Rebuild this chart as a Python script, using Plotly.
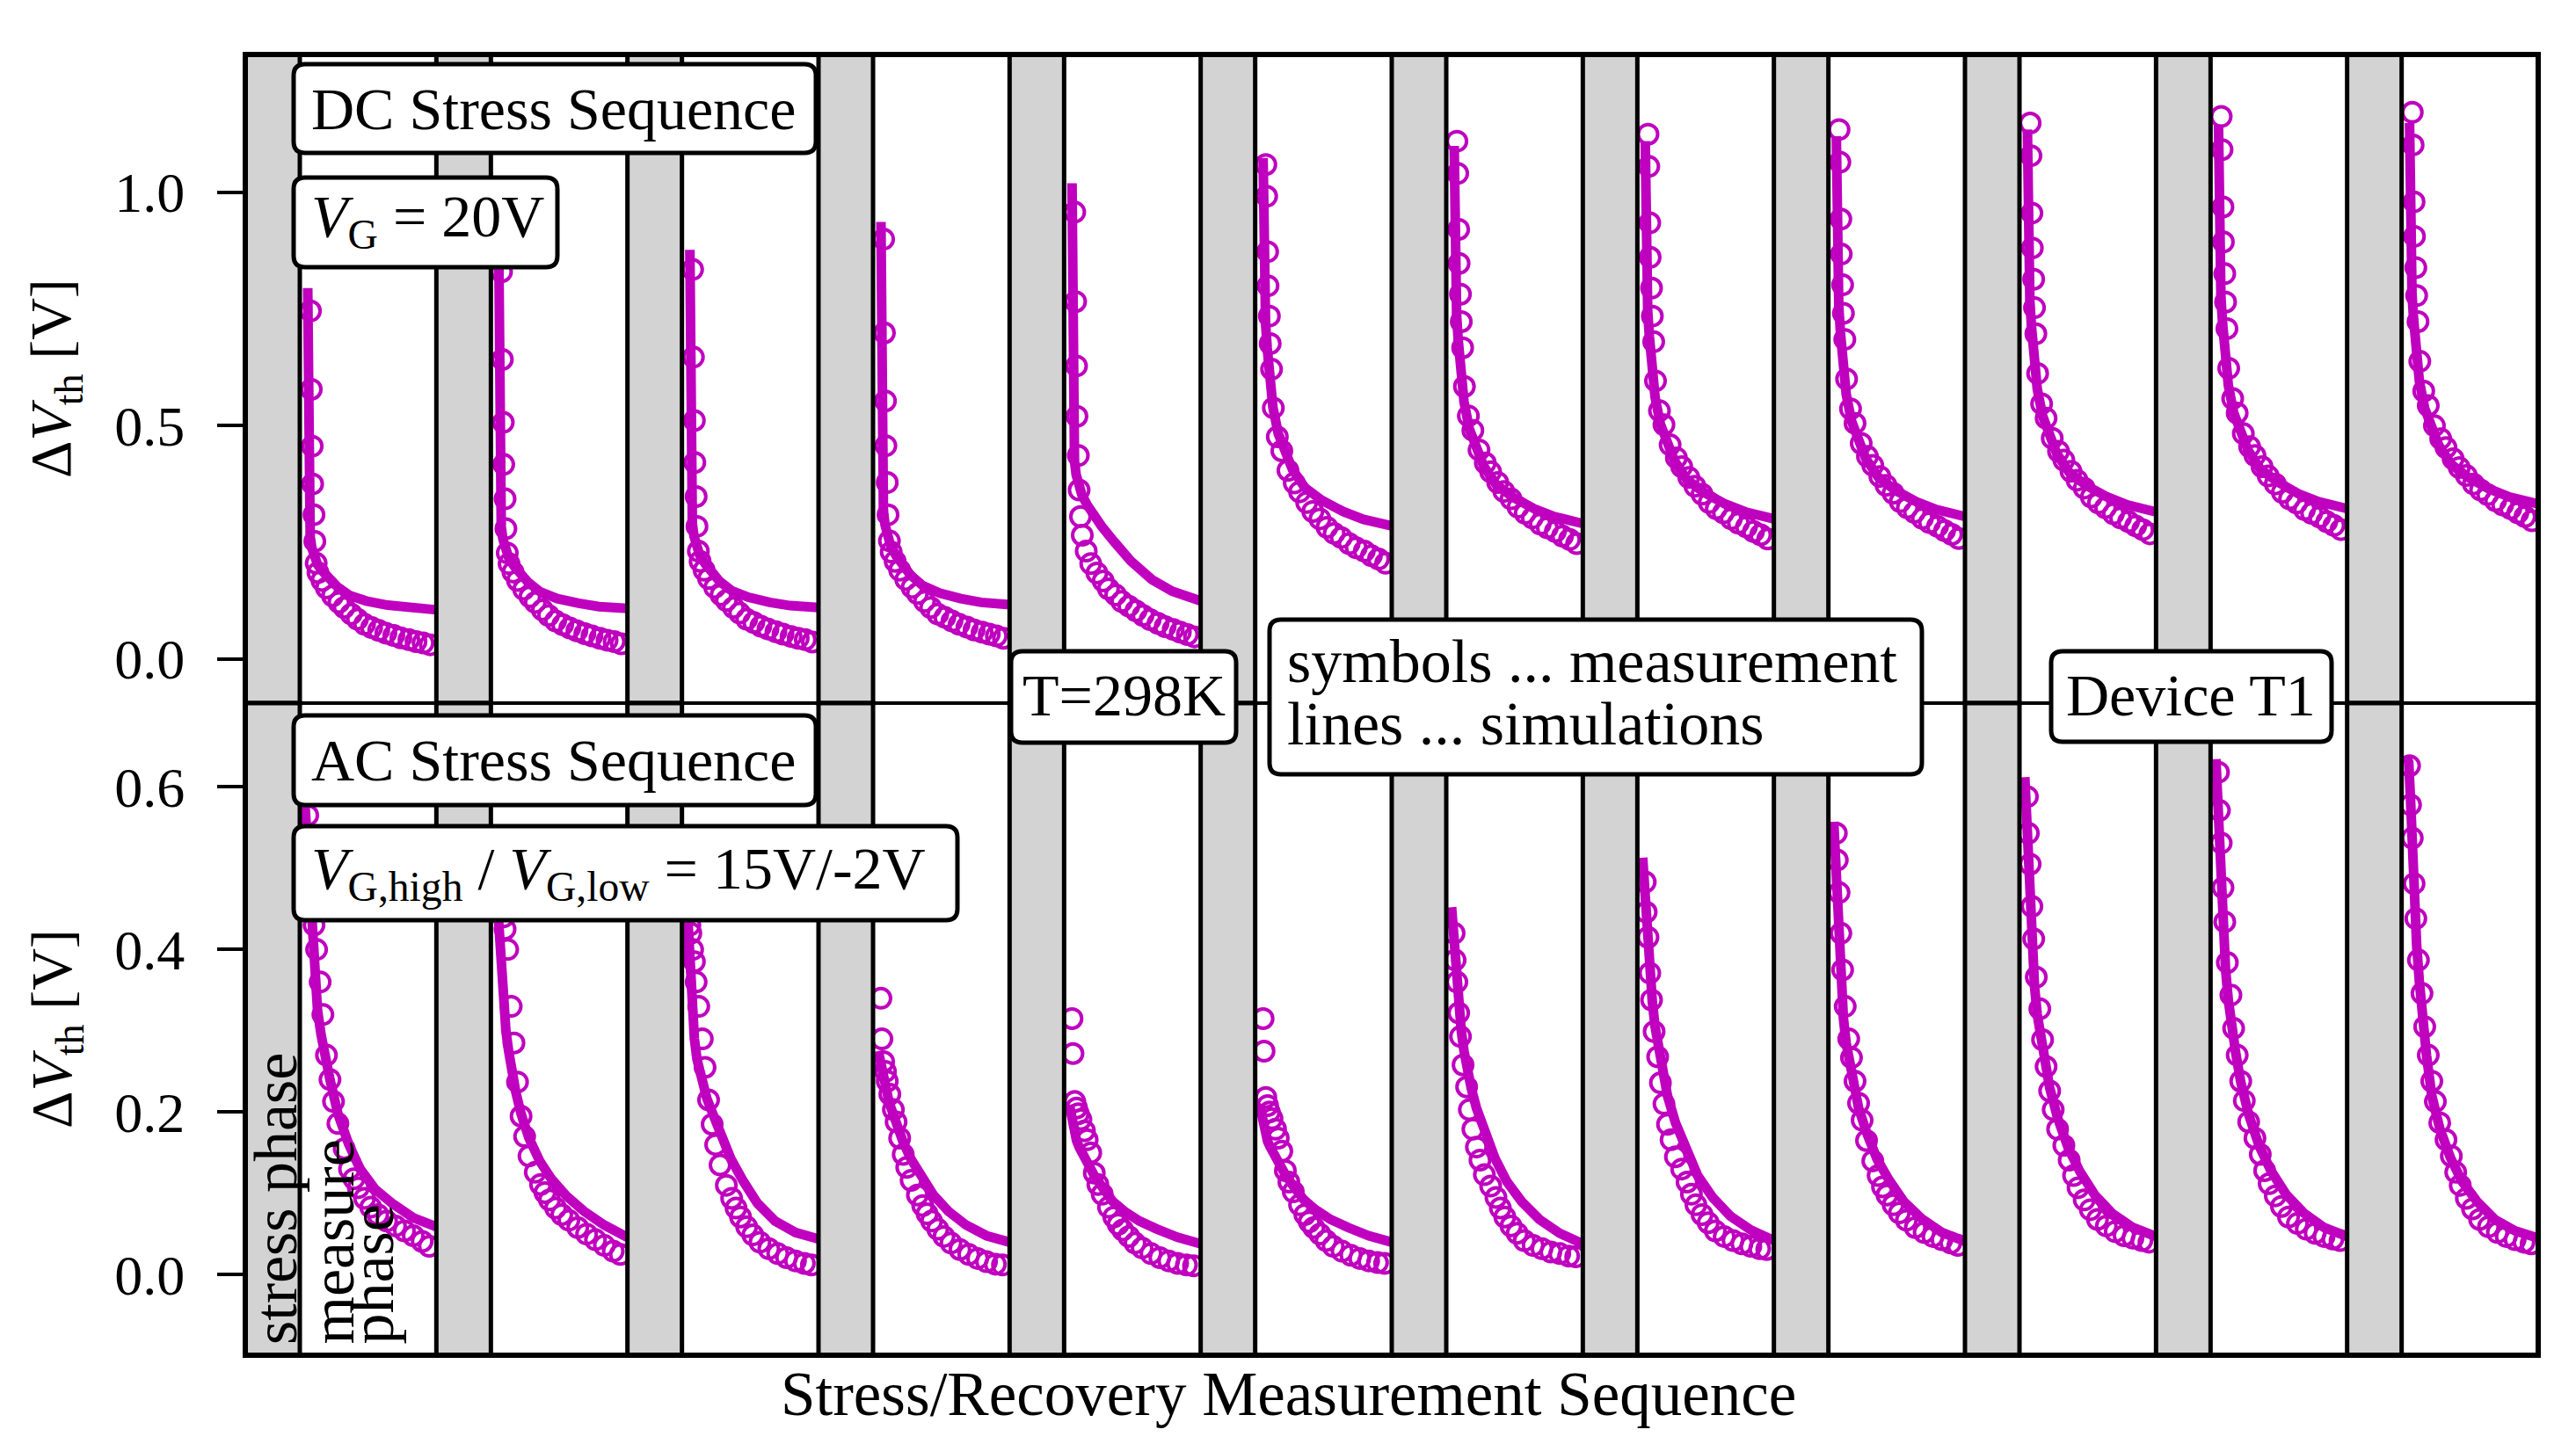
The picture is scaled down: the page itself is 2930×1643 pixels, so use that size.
import plotly.graph_objects as go

# ---------------- data ----------------
CYCLES = [1, 2, 3, 4, 5, 6, 7, 8, 9, 10, 11, 12]

# relative time inside each measure (recovery) window, 0 .. 1
DC_T_MEAS = [0.078, 0.084, 0.091, 0.094, 0.104, 0.110, 0.120, 0.133, 0.162, 0.195, 0.240, 0.286, 0.325,
             0.377, 0.422, 0.474, 0.526, 0.578, 0.630, 0.688, 0.740, 0.799, 0.851, 0.903, 0.955]
DC_T_SIM = [0.058, 0.060, 0.063, 0.068, 0.076, 0.088, 0.104, 0.130, 0.169, 0.221, 0.273, 0.364, 0.487,
            0.643, 0.792, 1.0]
AC_T_MEAS = [0.058, 0.065, 0.078, 0.091, 0.104, 0.123, 0.149, 0.169, 0.195, 0.221, 0.247, 0.279, 0.325,
             0.364, 0.396, 0.429, 0.474, 0.519, 0.571, 0.636, 0.701, 0.766, 0.831, 0.896, 0.948]
AC_T_SIM = [0.039, 0.052, 0.065, 0.078, 0.091, 0.110, 0.130, 0.156, 0.182, 0.221, 0.279, 0.357, 0.442,
            0.552, 0.682, 0.831, 1.0]

# DC stress, measured dVth [V]
DC_MEAS_01 = [0.746, 0.578, 0.456, 0.375, 0.309, 0.252, 0.205, 0.185, 0.168, 0.152, 0.135, 0.121, 0.110, 0.096, 0.085, 0.074, 0.067, 0.061, 0.055, 0.050, 0.045, 0.041, 0.037, 0.034, 0.030]
DC_MEAS_02 = [0.830, 0.642, 0.507, 0.417, 0.343, 0.279, 0.227, 0.204, 0.186, 0.168, 0.149, 0.133, 0.121, 0.105, 0.093, 0.081, 0.073, 0.066, 0.060, 0.054, 0.049, 0.044, 0.040, 0.037, 0.032]
DC_MEAS_03 = [0.835, 0.647, 0.511, 0.421, 0.348, 0.284, 0.231, 0.209, 0.190, 0.172, 0.153, 0.137, 0.125, 0.110, 0.098, 0.085, 0.078, 0.070, 0.064, 0.058, 0.053, 0.048, 0.044, 0.041, 0.036]
DC_MEAS_04 = [0.900, 0.699, 0.553, 0.457, 0.378, 0.309, 0.253, 0.229, 0.209, 0.190, 0.170, 0.153, 0.140, 0.123, 0.110, 0.096, 0.089, 0.081, 0.074, 0.068, 0.062, 0.057, 0.053, 0.049, 0.044]
DC_MEAS_05 = [0.958, 0.766, 0.628, 0.520, 0.436, 0.362, 0.305, 0.265, 0.231, 0.204, 0.184, 0.167, 0.150, 0.137, 0.123, 0.113, 0.103, 0.093, 0.084, 0.076, 0.069, 0.063, 0.057, 0.052, 0.047]
DC_MEAS_06 = [1.060, 0.992, 0.873, 0.800, 0.735, 0.676, 0.621, 0.538, 0.476, 0.446, 0.404, 0.377, 0.358, 0.335, 0.316, 0.300, 0.282, 0.269, 0.260, 0.247, 0.238, 0.231, 0.221, 0.214, 0.205]
DC_MEAS_07 = [1.110, 1.041, 0.921, 0.848, 0.782, 0.723, 0.667, 0.584, 0.521, 0.490, 0.448, 0.420, 0.401, 0.378, 0.359, 0.343, 0.325, 0.312, 0.302, 0.289, 0.281, 0.273, 0.263, 0.256, 0.247]
DC_MEAS_08 = [1.125, 1.056, 0.935, 0.861, 0.795, 0.735, 0.680, 0.596, 0.532, 0.502, 0.459, 0.431, 0.412, 0.389, 0.370, 0.353, 0.335, 0.322, 0.313, 0.300, 0.291, 0.283, 0.273, 0.266, 0.257]
DC_MEAS_09 = [1.135, 1.065, 0.943, 0.868, 0.802, 0.741, 0.685, 0.600, 0.536, 0.505, 0.462, 0.434, 0.415, 0.391, 0.372, 0.355, 0.337, 0.324, 0.314, 0.301, 0.292, 0.284, 0.275, 0.267, 0.258]
DC_MEAS_10 = [1.149, 1.079, 0.956, 0.881, 0.814, 0.753, 0.697, 0.612, 0.547, 0.516, 0.473, 0.445, 0.426, 0.402, 0.383, 0.366, 0.347, 0.334, 0.324, 0.311, 0.302, 0.294, 0.285, 0.277, 0.268]
DC_MEAS_11 = [1.163, 1.092, 0.969, 0.894, 0.826, 0.765, 0.708, 0.623, 0.558, 0.527, 0.483, 0.455, 0.436, 0.412, 0.392, 0.375, 0.357, 0.343, 0.334, 0.320, 0.312, 0.304, 0.294, 0.286, 0.277]
DC_MEAS_12 = [1.172, 1.102, 0.980, 0.906, 0.839, 0.779, 0.723, 0.638, 0.574, 0.543, 0.500, 0.472, 0.453, 0.429, 0.410, 0.393, 0.375, 0.362, 0.352, 0.339, 0.330, 0.322, 0.313, 0.305, 0.296]

# DC stress, simulated dVth [V]
DC_SIM_01 = [0.795, 0.550, 0.360, 0.300, 0.262, 0.238, 0.218, 0.202, 0.187, 0.168, 0.155, 0.136, 0.124, 0.115, 0.109, 0.105]
DC_SIM_02 = [0.870, 0.600, 0.390, 0.325, 0.283, 0.257, 0.235, 0.217, 0.199, 0.178, 0.164, 0.143, 0.129, 0.119, 0.112, 0.108]
DC_SIM_03 = [0.877, 0.610, 0.400, 0.333, 0.290, 0.263, 0.240, 0.222, 0.204, 0.182, 0.167, 0.146, 0.132, 0.121, 0.114, 0.110]
DC_SIM_04 = [0.937, 0.660, 0.440, 0.365, 0.318, 0.287, 0.262, 0.241, 0.221, 0.197, 0.180, 0.157, 0.141, 0.129, 0.121, 0.116]
DC_SIM_05 = [1.020, 0.800, 0.600, 0.480, 0.425, 0.395, 0.372, 0.352, 0.330, 0.306, 0.285, 0.252, 0.210, 0.170, 0.145, 0.124]
DC_SIM_06 = [1.074, 1.005, 0.938, 0.841, 0.720, 0.667, 0.608, 0.539, 0.483, 0.440, 0.406, 0.367, 0.340, 0.316, 0.299, 0.285]
DC_SIM_07 = [1.100, 1.030, 0.961, 0.861, 0.736, 0.682, 0.622, 0.551, 0.493, 0.449, 0.414, 0.374, 0.347, 0.322, 0.305, 0.290]
DC_SIM_08 = [1.110, 1.040, 0.971, 0.871, 0.746, 0.692, 0.632, 0.561, 0.503, 0.459, 0.424, 0.384, 0.357, 0.332, 0.315, 0.300]
DC_SIM_09 = [1.121, 1.050, 0.980, 0.880, 0.755, 0.700, 0.640, 0.568, 0.510, 0.465, 0.430, 0.390, 0.362, 0.337, 0.320, 0.305]
DC_SIM_10 = [1.135, 1.064, 0.994, 0.893, 0.767, 0.712, 0.651, 0.579, 0.521, 0.476, 0.440, 0.400, 0.372, 0.347, 0.330, 0.315]
DC_SIM_11 = [1.144, 1.072, 1.003, 0.902, 0.775, 0.720, 0.659, 0.587, 0.528, 0.483, 0.448, 0.407, 0.380, 0.354, 0.337, 0.322]
DC_SIM_12 = [1.149, 1.078, 1.008, 0.908, 0.782, 0.727, 0.667, 0.595, 0.537, 0.492, 0.457, 0.417, 0.389, 0.364, 0.347, 0.332]

# AC stress, measured dVth [V]
AC_MEAS_01 = [0.565, 0.530, 0.490, 0.455, 0.430, 0.400, 0.360, 0.320, 0.270, 0.240, 0.213, 0.186, 0.155, 0.130, 0.118, 0.107, 0.094, 0.083, 0.074, 0.066, 0.060, 0.054, 0.048, 0.041, 0.035]
AC_MEAS_02 = [0.470, 0.460, 0.450, 0.440, 0.425, 0.400, 0.330, 0.285, 0.237, 0.195, 0.170, 0.146, 0.126, 0.111, 0.101, 0.092, 0.082, 0.074, 0.067, 0.058, 0.050, 0.043, 0.036, 0.029, 0.025]
AC_MEAS_03 = [0.430, 0.420, 0.400, 0.385, 0.360, 0.330, 0.290, 0.255, 0.215, 0.185, 0.160, 0.135, 0.110, 0.094, 0.082, 0.071, 0.059, 0.049, 0.040, 0.032, 0.026, 0.021, 0.017, 0.014, 0.012]
AC_MEAS_04 = [0.340, 0.290, 0.262, 0.250, 0.238, 0.222, 0.203, 0.188, 0.168, 0.148, 0.132, 0.116, 0.098, 0.085, 0.075, 0.066, 0.056, 0.047, 0.039, 0.031, 0.025, 0.020, 0.016, 0.013, 0.012]
AC_MEAS_05 = [0.315, 0.272, 0.213, 0.205, 0.198, 0.191, 0.177, 0.166, 0.150, 0.125, 0.111, 0.099, 0.083, 0.071, 0.062, 0.055, 0.047, 0.039, 0.033, 0.026, 0.021, 0.017, 0.014, 0.012, 0.011]
AC_MEAS_06 = [0.315, 0.275, 0.218, 0.208, 0.200, 0.192, 0.179, 0.168, 0.152, 0.128, 0.114, 0.102, 0.086, 0.074, 0.065, 0.058, 0.050, 0.042, 0.035, 0.029, 0.024, 0.020, 0.017, 0.015, 0.014]
AC_MEAS_07 = [0.420, 0.387, 0.360, 0.322, 0.293, 0.258, 0.231, 0.203, 0.179, 0.157, 0.141, 0.123, 0.109, 0.095, 0.082, 0.071, 0.060, 0.051, 0.042, 0.036, 0.032, 0.028, 0.026, 0.023, 0.022]
AC_MEAS_08 = [0.483, 0.446, 0.415, 0.371, 0.338, 0.299, 0.268, 0.236, 0.210, 0.185, 0.166, 0.145, 0.130, 0.114, 0.099, 0.086, 0.074, 0.064, 0.054, 0.047, 0.042, 0.038, 0.035, 0.032, 0.031]
AC_MEAS_09 = [0.543, 0.510, 0.470, 0.420, 0.375, 0.330, 0.290, 0.267, 0.238, 0.211, 0.190, 0.165, 0.140, 0.122, 0.108, 0.098, 0.086, 0.076, 0.067, 0.058, 0.052, 0.047, 0.043, 0.039, 0.036]
AC_MEAS_10 = [0.588, 0.543, 0.505, 0.453, 0.413, 0.366, 0.327, 0.289, 0.256, 0.226, 0.203, 0.179, 0.159, 0.141, 0.122, 0.107, 0.092, 0.080, 0.068, 0.060, 0.053, 0.048, 0.045, 0.042, 0.040]
AC_MEAS_11 = [0.618, 0.571, 0.531, 0.476, 0.434, 0.384, 0.344, 0.303, 0.270, 0.238, 0.214, 0.188, 0.168, 0.148, 0.128, 0.112, 0.097, 0.084, 0.071, 0.063, 0.056, 0.051, 0.047, 0.044, 0.042]
AC_MEAS_12 = [0.626, 0.578, 0.537, 0.481, 0.438, 0.387, 0.346, 0.305, 0.270, 0.238, 0.213, 0.187, 0.166, 0.146, 0.126, 0.110, 0.094, 0.081, 0.068, 0.059, 0.052, 0.047, 0.043, 0.040, 0.038]

# AC stress, simulated dVth [V]
AC_SIM_01 = [0.575, 0.540, 0.490, 0.440, 0.395, 0.355, 0.325, 0.295, 0.270, 0.240, 0.198, 0.161, 0.130, 0.105, 0.087, 0.070, 0.059]
AC_SIM_02 = [0.480, 0.440, 0.400, 0.365, 0.335, 0.300, 0.275, 0.245, 0.225, 0.198, 0.168, 0.140, 0.118, 0.097, 0.078, 0.061, 0.046]
AC_SIM_03 = [0.450, 0.400, 0.350, 0.315, 0.290, 0.265, 0.248, 0.230, 0.217, 0.200, 0.175, 0.143, 0.117, 0.088, 0.066, 0.052, 0.044]
AC_SIM_04 = [0.275, 0.262, 0.250, 0.240, 0.230, 0.218, 0.206, 0.192, 0.180, 0.163, 0.142, 0.118, 0.098, 0.078, 0.061, 0.048, 0.040]
AC_SIM_05 = [0.209, 0.195, 0.183, 0.172, 0.165, 0.157, 0.150, 0.141, 0.133, 0.122, 0.108, 0.090, 0.078, 0.066, 0.056, 0.046, 0.038]
AC_SIM_06 = [0.204, 0.192, 0.181, 0.171, 0.164, 0.157, 0.150, 0.142, 0.134, 0.123, 0.109, 0.092, 0.080, 0.068, 0.058, 0.048, 0.040]
AC_SIM_07 = [0.452, 0.420, 0.385, 0.355, 0.330, 0.300, 0.275, 0.250, 0.230, 0.205, 0.175, 0.143, 0.115, 0.090, 0.068, 0.051, 0.038]
AC_SIM_08 = [0.513, 0.475, 0.435, 0.400, 0.370, 0.335, 0.305, 0.275, 0.250, 0.220, 0.187, 0.152, 0.122, 0.095, 0.072, 0.055, 0.042]
AC_SIM_09 = [0.557, 0.500, 0.440, 0.391, 0.355, 0.315, 0.285, 0.258, 0.237, 0.205, 0.175, 0.142, 0.117, 0.090, 0.069, 0.052, 0.041]
AC_SIM_10 = [0.612, 0.550, 0.490, 0.440, 0.400, 0.355, 0.320, 0.290, 0.265, 0.230, 0.193, 0.156, 0.127, 0.098, 0.075, 0.058, 0.047]
AC_SIM_11 = [0.634, 0.575, 0.515, 0.465, 0.425, 0.375, 0.338, 0.302, 0.275, 0.237, 0.197, 0.158, 0.128, 0.099, 0.076, 0.058, 0.047]
AC_SIM_12 = [0.636, 0.630, 0.585, 0.520, 0.465, 0.405, 0.360, 0.310, 0.270, 0.220, 0.180, 0.144, 0.115, 0.090, 0.068, 0.054, 0.045]

DC_TICKS = [0.0, 0.5, 1.0]
AC_TICKS = [0.0, 0.2, 0.4, 0.6]

DC_MEAS = [DC_MEAS_01, DC_MEAS_02, DC_MEAS_03, DC_MEAS_04, DC_MEAS_05, DC_MEAS_06,
           DC_MEAS_07, DC_MEAS_08, DC_MEAS_09, DC_MEAS_10, DC_MEAS_11, DC_MEAS_12]
DC_SIM = [DC_SIM_01, DC_SIM_02, DC_SIM_03, DC_SIM_04, DC_SIM_05, DC_SIM_06,
          DC_SIM_07, DC_SIM_08, DC_SIM_09, DC_SIM_10, DC_SIM_11, DC_SIM_12]
AC_MEAS = [AC_MEAS_01, AC_MEAS_02, AC_MEAS_03, AC_MEAS_04, AC_MEAS_05, AC_MEAS_06,
           AC_MEAS_07, AC_MEAS_08, AC_MEAS_09, AC_MEAS_10, AC_MEAS_11, AC_MEAS_12]
AC_SIM = [AC_SIM_01, AC_SIM_02, AC_SIM_03, AC_SIM_04, AC_SIM_05, AC_SIM_06,
          AC_SIM_07, AC_SIM_08, AC_SIM_09, AC_SIM_10, AC_SIM_11, AC_SIM_12]

# ---------------- layout constants ----------------
WIN_W, WIN_H = 2930, 1643
BODY = 8                                   # default page margin of the html body
W, H = WIN_W - BODY, WIN_H - BODY
PL, PR, PT, PB = 279, 2887, 62, 1542       # plot area in window pixels
ML, MT = PL - BODY, PT - BODY
MR, MB = W - (PR - BODY), H - (PB - BODY)
PW, PH = PR - PL, PB - PT
SPLIT = (PB - 800) / PH
STRESS = 0.2853          # share of a cycle taken by the stress phase (grey)
MAG = '#BF00BF'
GREY = '#D3D3D3'
FONT = 'Liberation Serif, Times New Roman, serif'


def px_x(p):
    return (p - PL) / PW


def px_y(p):
    return (PB - p) / PH


def xpos(cycle, ts):
    return [cycle - 1 + STRESS + t * (1 - STRESS) for t in ts]


fig = go.Figure()
panels = [('y', DC_T_MEAS, DC_MEAS, DC_T_SIM, DC_SIM),
          ('y2', AC_T_MEAS, AC_MEAS, AC_T_SIM, AC_SIM)]
for yax, tm, meas, ts, sims in panels:
    for c, m in zip(CYCLES, meas):
        fig.add_trace(go.Scatter(
            x=xpos(c, tm), y=m, mode='markers', xaxis='x', yaxis=yax,
            marker=dict(symbol='circle-open', size=22, color=MAG, line=dict(width=4, color=MAG)),
            showlegend=False, hoverinfo='skip'))
    for c, s in zip(CYCLES, sims):
        fig.add_trace(go.Scatter(
            x=xpos(c, ts), y=s, mode='lines', xaxis='x', yaxis=yax,
            line=dict(color=MAG, width=11),
            showlegend=False, hoverinfo='skip'))

shapes = []
for yref in ('y domain', 'y2 domain'):
    for c in CYCLES:
        shapes.append(dict(type='rect', xref='x', yref=yref, x0=c - 1, x1=c - 1 + STRESS, y0=0, y1=1,
                           fillcolor=GREY, line=dict(color='black', width=5), layer='above'))
shapes.append(dict(type='line', xref='paper', yref='paper', x0=0, x1=1, y0=SPLIT, y1=SPLIT,
                   line=dict(color='black', width=4), layer='above'))
shapes.append(dict(type='rect', xref='paper', yref='paper', x0=0, x1=1, y0=0, y1=1,
                   line=dict(color='black', width=6), layer='above'))


def rbox(x0, y0, x1, y1, r=13):
    X, Y = px_x, px_y
    path = (f"M{X(x0 + r)},{Y(y0)} L{X(x1 - r)},{Y(y0)} Q{X(x1)},{Y(y0)} {X(x1)},{Y(y0 + r)} "
            f"L{X(x1)},{Y(y1 - r)} Q{X(x1)},{Y(y1)} {X(x1 - r)},{Y(y1)} "
            f"L{X(x0 + r)},{Y(y1)} Q{X(x0)},{Y(y1)} {X(x0)},{Y(y1 - r)} "
            f"L{X(x0)},{Y(y0 + r)} Q{X(x0)},{Y(y0)} {X(x0 + r)},{Y(y0)} Z")
    return dict(type='path', xref='paper', yref='paper', path=path, fillcolor='white',
                line=dict(color='black', width=5), layer='above')


for b in [(334, 73, 928, 174), (334, 202, 634, 304), (334, 814, 928, 916), (334, 940, 1089, 1047),
          (1150, 741, 1406, 845), (1444, 705, 2186, 881), (2333, 741, 2652, 844)]:
    shapes.append(rbox(*b))

annotations = []


def ann(text, x, y, size=68, xanchor='left', yanchor='middle', angle=0, align='left'):
    annotations.append(dict(text=text, x=px_x(x), y=px_y(y), xref='paper', yref='paper',
                            xanchor=xanchor, yanchor=yanchor, textangle=angle, align=align,
                            showarrow=False, font=dict(family=FONT, size=size, color='black')))


ann('DC Stress Sequence', 352, 124)
ann('<i>V</i><sub>G</sub> = 20V', 352, 250)
ann('AC Stress Sequence', 352, 865)
ann('<i>V</i><sub>G,high</sub> / <i>V</i><sub>G,low</sub> = 15V/-2V', 352, 992)
ann('T=298K', 1278, 791, xanchor='center')
ann('symbols ... measurement', 1462, 753, size=70)
ann('lines ... simulations', 1462, 824, size=70)
ann('Device T1', 2492, 791, xanchor='center')
ann('stress phase', 313, 1532, size=70, xanchor='center', yanchor='bottom', angle=-90)
ann('measure', 378, 1532, size=70, xanchor='center', yanchor='bottom', angle=-90)
ann('phase', 423, 1532, size=70, xanchor='center', yanchor='bottom', angle=-90)
ann('Δ<i>V</i><sub>th</sub> [V]', 63, 431, size=66, xanchor='center', angle=-90)
ann('Δ<i>V</i><sub>th</sub> [V]', 63, 1171, size=66, xanchor='center', angle=-90)
ann('Stress/Recovery Measurement Sequence', 1465, 1586, size=71, xanchor='center')

axis_common = dict(showgrid=False, zeroline=False, ticks='outside', ticklen=31, tickwidth=4,
                   tickcolor='black', tickformat='.1f', ticklabelstandoff=24,
                   tickfont=dict(family=FONT, size=64, color='black'), anchor='x', showline=False)

fig.update_layout(
    width=W, height=H,
    margin=dict(l=ML, r=MR, t=MT, b=MB, autoexpand=False),
    paper_bgcolor='white', plot_bgcolor='white',
    xaxis=dict(domain=[0, 1], range=[0, len(CYCLES)], showticklabels=False, ticks='',
               showgrid=False, zeroline=False, anchor='y2', showline=False),
    yaxis=dict(domain=[SPLIT, 1], range=[-0.095, 1.296], tickvals=DC_TICKS, **axis_common),
    yaxis2=dict(domain=[0, SPLIT], range=[-0.099, 0.703], tickvals=AC_TICKS, **axis_common),
    shapes=shapes, annotations=annotations, hovermode=False, showlegend=False,
)

fig.write_html('out.html', config={'displayModeBar': False})
